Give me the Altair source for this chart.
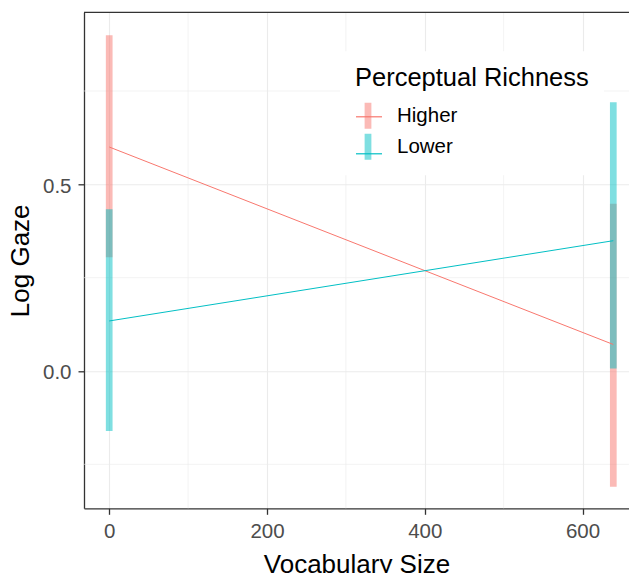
import altair as alt
import pandas as pd

# ---- data ----
groups = ["Higher", "Lower"]
vocab = [0, 639]
fit_higher = [0.600, 0.071]
fit_lower = [0.134, 0.349]
lo_higher = [0.305, -0.310]
hi_higher = [0.899, 0.448]
lo_lower = [-0.161, 0.007]
hi_lower = [0.433, 0.720]

x_ticks = [0, 200, 400, 600]
x_minor = [100, 300, 500]
y_ticks = [0.0, 0.5]
y_minor = [-0.25, 0.25, 0.75]

colors = ["#F8766D", "#00BFC4"]

rows = []
for g, fits, los, his in [("Higher", fit_higher, lo_higher, hi_higher),
                          ("Lower", fit_lower, lo_lower, hi_lower)]:
    for v, f, lo, hi in zip(vocab, fits, los, his):
        rows.append({"vocab": v, "fit": f, "lo": lo, "hi": hi, "grp": g, "grp2": g})
df = pd.DataFrame(rows)

FONT = "Liberation Sans"
W, H = 545, 496
xscale = alt.Scale(domain=[-31.95, 658.9], nice=False, zero=False, padding=0)
yscale = alt.Scale(domain=[-0.3678, 0.9608], nice=False, zero=False, padding=0)

legend_common = dict(
    orient="none", legendX=256, legendY=39, title="Perceptual Richness",
    titleFontSize=25.5, titleFont=FONT, titleFontWeight="normal", titleLimit=500,
    labelFontSize=20.5, labelFont=FONT, labelLimit=300, padding=15, rowPadding=5,
    labelOffset=16, titlePadding=11, symbolSize=676,
)

minor_x = alt.Chart(pd.DataFrame({"v": x_minor})).mark_rule(
    color="#EBEBEB", strokeWidth=0.6
).encode(x=alt.X("v:Q", scale=xscale))

minor_y = alt.Chart(pd.DataFrame({"v": y_minor})).mark_rule(
    color="#EBEBEB", strokeWidth=0.6
).encode(y=alt.Y("v:Q", scale=yscale))

bars = alt.Chart(df).mark_bar(size=6.7, opacity=0.5).encode(
    x=alt.X("vocab:Q", scale=xscale, title="Vocabulary Size",
            axis=alt.Axis(values=x_ticks, grid=True)),
    y=alt.Y("lo:Q", scale=yscale, title="Log Gaze", stack=None,
            axis=alt.Axis(values=y_ticks, format=".1f", grid=True, labelOffset=2)),
    y2="hi:Q",
    color=alt.Color("grp:N", scale=alt.Scale(domain=groups, range=colors),
                    legend=alt.Legend(symbolType="M-0.26,-1H0.26V1H-0.26Z M-1,0L-1,0 M1,0L1,0",
                                      symbolStrokeWidth=0,
                                      symbolOpacity=0.5, fillColor="white",
                                      titleColor="black", labelColor="black",
                                      **legend_common)),
)

lines = alt.Chart(df).mark_line(strokeWidth=1).encode(
    x=alt.X("vocab:Q", scale=xscale),
    y=alt.Y("fit:Q", scale=yscale),
    color=alt.Color("grp2:N", scale=alt.Scale(domain=groups, range=colors),
                    legend=alt.Legend(symbolType="M-1,0H1 M0,-1L0,-1 M0,1L0,1",
                                      symbolStrokeWidth=1.2,
                                      symbolOpacity=1, titleColor="transparent",
                                      labelColor="transparent", **legend_common)),
    detail="grp2:N",
)

top_border = alt.Chart(pd.DataFrame({"v": [0]})).mark_rule(
    color="#333333", strokeWidth=1.3
).encode(x=alt.value(0), x2=alt.value(W), y=alt.value(0))

chart = alt.layer(minor_x, minor_y, bars, lines, top_border).resolve_scale(
    color="independent"
).properties(
    width=W, height=H,
    autosize=alt.AutoSizeParams(type="none"),
    padding={"left": 76, "top": 4.3, "right": 0, "bottom": 66},
).configure_view(stroke=None).configure_axis(
    labelFont=FONT, titleFont=FONT, labelFontSize=20.5, titleFontSize=26,
    labelColor="#4D4D4D", titleColor="black", titleFontWeight="normal",
    tickColor="#333333", tickSize=6, tickWidth=1.3,
    domainColor="#333333", domainWidth=1.3,
    gridColor="#EBEBEB", gridWidth=1.1, labelPadding=7, titlePadding=9,
).configure_axisX(labelPadding=7, titlePadding=10)

chart.save("out.html", embed_options={"renderer": "svg", "actions": False})
